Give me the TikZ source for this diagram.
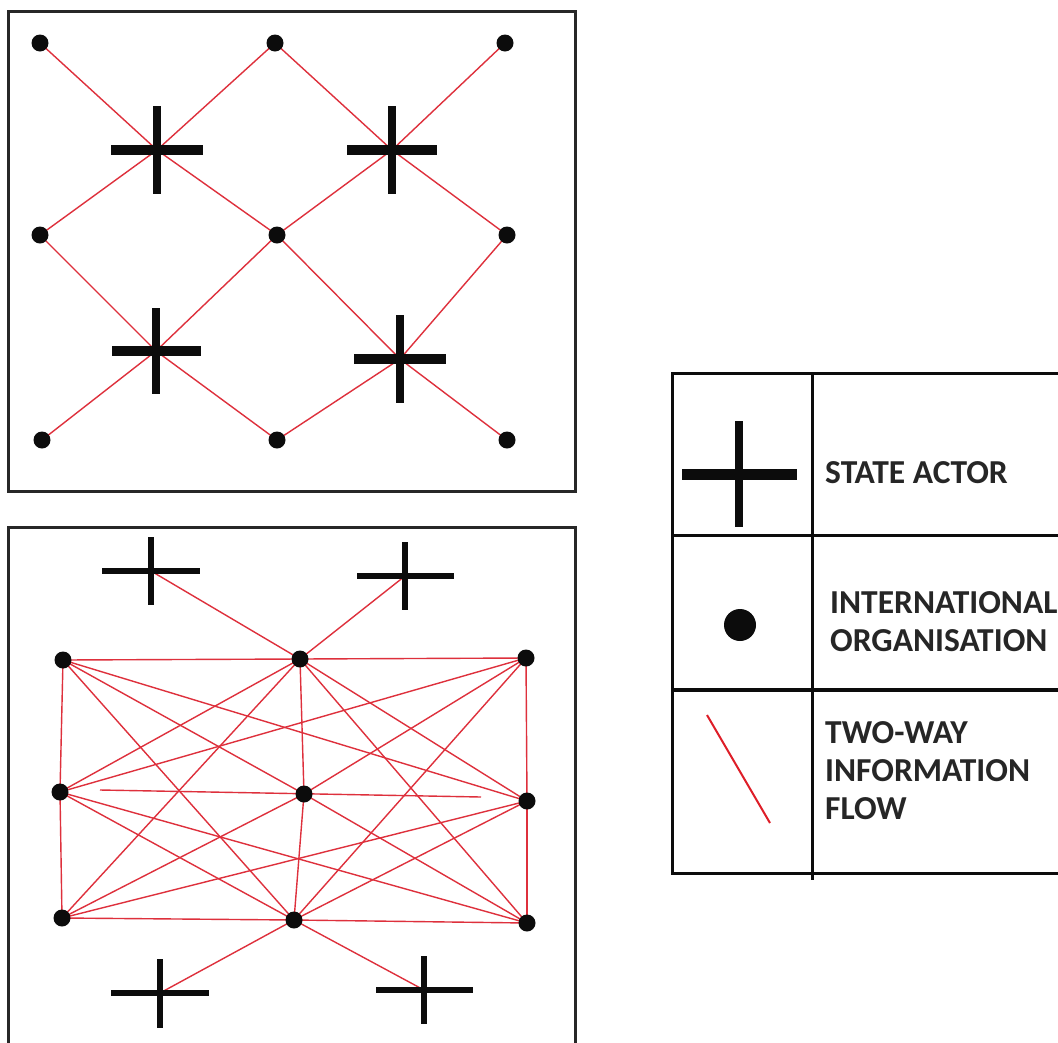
\documentclass[tikz,border=0pt]{standalone}
\usepackage{fontspec}
\setmainfont{Carlito}
\pgfdeclarelayer{paper}
\pgfdeclarelayer{lines}
\pgfsetlayers{paper,lines,main}
\definecolor{ink}{RGB}{12,12,12}
\definecolor{frame}{RGB}{40,40,40}
\definecolor{flowred}{RGB}{222,48,60}
\definecolor{legred}{RGB}{222,30,40}
\definecolor{txt}{RGB}{38,38,38}
\tikzset{
  dot/.style={circle, fill=ink, minimum size=17pt, inner sep=0pt},
  legdot/.style={circle, fill=ink, minimum size=32pt, inner sep=0pt},
  flow/.style={draw=flowred, line width=1.4pt},
  panel/.style={draw=frame, line width=3pt},
  grid line/.style={draw=ink, line width=3pt},
  label/.style={anchor=base west, inner sep=0pt, text=txt, align=left,
    font=\fontsize{33.5}{38}\selectfont\bfseries},
  pics/actor/.style n args={4}{code={
    \fill[ink] ({-#1/2*1pt},{-#2/2*1pt}) rectangle ({#1/2*1pt},{#2/2*1pt});
    \fill[ink] ({-#4/2*1pt},{-#3/2*1pt}) rectangle ({#4/2*1pt},{#3/2*1pt});
  }},
}
\begin{document}
\begin{tikzpicture}[x=1pt,y=-1pt]
\clip (0,0) rectangle (1058,1042);
\begin{pgfonlayer}{paper}
\fill[white] (0,0) rectangle (1058,1042);
\end{pgfonlayer}

% ---------- top panel ----------
\draw[panel] (8,11) rectangle (575,491);
\node[dot] (a1) at (40,43) {};
\node[dot] (a2) at (275,43) {};
\node[dot] (a3) at (505,43) {};
\node[dot] (b1) at (40,235) {};
\node[dot] (b2) at (277,235) {};
\node[dot] (b3) at (507,235) {};
\node[dot] (d1) at (42,440) {};
\node[dot] (d2) at (277,440) {};
\node[dot] (d3) at (507,440) {};
\coordinate (s1) at (157,150);
\coordinate (s2) at (392,150);
\coordinate (s3) at (156,351);
\coordinate (s4) at (400,359);
\pic at (s1) {actor={92}{9.5}{88}{7.5}};
\pic at (s2) {actor={90}{9.5}{88}{7.5}};
\pic at (s3) {actor={89}{9.5}{86}{7.5}};
\pic at (s4) {actor={92}{9.5}{88}{7.5}};
\begin{pgfonlayer}{lines}
\foreach \u/\v in {a1/s1, s1/b2, b2/s4, s4/d3, a2/s1, s1/b1, a2/s2, s2/b3,
                   a3/s2, s2/b2, b2/s3, s3/d1, b1/s3, s3/d2, d2/s4, s4/b3}
  \draw[flow] (\u.center) -- (\v.center);
\end{pgfonlayer}

% ---------- bottom panel ----------
\draw[panel] (8,1060) -- (8,527) -- (575,527) -- (575,1060);
\node[dot] (p1) at (63,660) {};
\node[dot] (p2) at (300,659) {};
\node[dot] (p3) at (526,658) {};
\node[dot] (p4) at (60,792) {};
\node[dot] (p5) at (304,794) {};
\node[dot] (p6) at (527,801) {};
\node[dot] (p7) at (62,918) {};
\node[dot] (p8) at (294,920) {};
\node[dot] (p9) at (527,923) {};
\coordinate (q1) at (151,571);
\coordinate (q2) at (405,576);
\coordinate (q3) at (160,993);
\coordinate (q4) at (424,990);
\coordinate (m1) at (100,790);
\coordinate (m2) at (481,797);
\pic at (q1) {actor={98}{6.5}{68}{6.5}};
\pic at (q2) {actor={97}{6.5}{68}{6.5}};
\pic at (q3) {actor={98}{6.5}{69}{6.5}};
\pic at (q4) {actor={97}{6.5}{68}{6.5}};
\begin{pgfonlayer}{lines}
\foreach \u/\v in {q1/p2, q2/p2, p8/q3, p8/q4,
                   p1/p2, p2/p3, p7/p8, p8/p9, p1/p4, p4/p7, p3/p6, p6/p9, p2/p5, p5/p8,
                   p1/p5, p5/p9, p3/p5, p5/p7,
                   p1/p6, p1/p8, p3/p4, p3/p8, p7/p2, p7/p6, p9/p2, p9/p4,
                   p4/p2, p2/p6, p6/p8, p8/p4, m1/m2}
  \draw[flow] (\u.center) -- (\v.center);
\end{pgfonlayer}

% ---------- legend ----------
\coordinate (L1) at (672,373);
\coordinate (L2) at (812,373);
\coordinate (L3) at (1070,373);
\draw[grid line] (L3) -- (L1) -- (672,873) -- (1070,873);
\draw[grid line] (L2) -- (812,880);
\draw[grid line] (672,535) -- (1070,535);
\draw[grid line, line width=3.5pt] (672,690) -- (1070,690);
\pic at (739,474) {actor={115}{11}{106}{8}};
\node[legdot] (ld) at (740,625) {};
\coordinate (lr1) at (707,715);
\coordinate (lr2) at (770,823);
\draw[draw=legred, line width=2pt] (lr1) -- (lr2);
\node[label] (t1) at (825,483) {STATE ACTOR};
\node[label] (t2) at (830,651) {INTERNATIONAL\\ORGANISATION};
\node[label] (t3) at (825,819) {TWO-WAY\\INFORMATION\\FLOW};
\end{tikzpicture}
\end{document}
